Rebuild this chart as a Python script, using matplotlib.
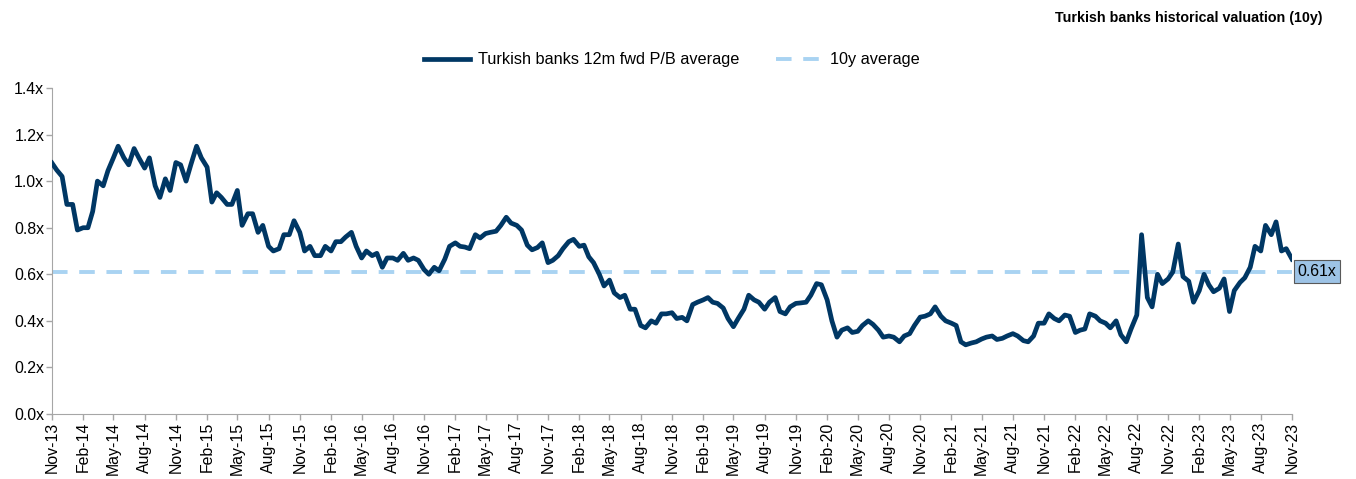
import numpy as np
import pandas as pd
import matplotlib.pyplot as plt
import matplotlib.dates as mdates

plt.rcParams['font.family'] = ['Liberation Sans', 'DejaVu Sans']

# Semi-monthly 12m forward P/B readings, Nov-2013 to Nov-2023
dates = pd.date_range('2013-11-01', '2023-11-01', freq='SMS')
pb_2014 = [1.078, 1.048, 1.02, 0.90, 0.90, 0.79, 0.80, 0.80, 0.87, 1.00, 0.98, 1.045,
           1.10, 1.15, 1.10, 1.07, 1.14, 1.10, 1.056, 1.10, 0.98, 0.93, 1.01, 0.96]
pb_2015 = [1.08, 1.07, 1.00, 1.07, 1.15, 1.10, 1.06, 0.91, 0.95, 0.93, 0.90, 0.90,
           0.96, 0.81, 0.86, 0.86, 0.78, 0.81, 0.72, 0.70, 0.71, 0.77, 0.77, 0.83]
pb_2016 = [0.78, 0.70, 0.72, 0.68, 0.68, 0.72, 0.70, 0.74, 0.74, 0.76, 0.78, 0.72,
           0.67, 0.70, 0.68, 0.69, 0.63, 0.67, 0.67, 0.66, 0.69, 0.66, 0.67, 0.66]
pb_2017 = [0.62, 0.60, 0.63, 0.615, 0.665, 0.72, 0.735, 0.72, 0.717, 0.71, 0.77, 0.756,
           0.775, 0.78, 0.785, 0.81, 0.845, 0.82, 0.81, 0.79, 0.725, 0.705, 0.715, 0.735]
pb_2018 = [0.65, 0.66, 0.68, 0.71, 0.74, 0.75, 0.72, 0.725, 0.675, 0.65, 0.60, 0.55,
           0.575, 0.52, 0.50, 0.51, 0.45, 0.45, 0.38, 0.37, 0.40, 0.39, 0.43, 0.43]
pb_2019 = [0.435, 0.41, 0.415, 0.40, 0.47, 0.48, 0.49, 0.50, 0.48, 0.475, 0.455, 0.41,
           0.375, 0.41, 0.45, 0.51, 0.49, 0.48, 0.45, 0.48, 0.50, 0.44, 0.43, 0.46]
pb_2020 = [0.475, 0.477, 0.48, 0.51, 0.56, 0.555, 0.49, 0.40, 0.33, 0.36, 0.37, 0.35,
           0.355, 0.38, 0.40, 0.385, 0.36, 0.33, 0.335, 0.33, 0.31, 0.335, 0.345, 0.38]
pb_2021 = [0.416, 0.42, 0.43, 0.46, 0.42, 0.40, 0.39, 0.38, 0.31, 0.297, 0.305, 0.31,
           0.322, 0.33, 0.335, 0.32, 0.325, 0.335, 0.345, 0.335, 0.315, 0.31, 0.335, 0.39]
pb_2022 = [0.39, 0.43, 0.41, 0.40, 0.425, 0.42, 0.35, 0.36, 0.365, 0.43, 0.42, 0.40,
           0.39, 0.37, 0.40, 0.34, 0.31, 0.365, 0.425, 0.77, 0.50, 0.46, 0.60, 0.56]
pb_2023 = [0.58, 0.61, 0.73, 0.59, 0.57, 0.48, 0.53, 0.60, 0.555, 0.525, 0.54, 0.58,
           0.44, 0.53, 0.565, 0.585, 0.63, 0.72, 0.70, 0.81, 0.77, 0.825, 0.70, 0.71, 0.665]
pb = pb_2014 + pb_2015 + pb_2016 + pb_2017 + pb_2018 + pb_2019 + pb_2020 + pb_2021 + pb_2022 + pb_2023
avg_10y = 0.61

fig = plt.figure(figsize=(13.56, 4.79), dpi=100)
ax = fig.add_axes([0.0383, 0.1357, 0.9145, 0.6806])

navy = '#003764'
light_blue = '#A9D3F2'
fs = 11.4

ax.plot(dates, pb, color=navy, lw=3.4, label='Turkish banks 12m fwd P/B average', zorder=3)
ax.axhline(avg_10y, color=light_blue, lw=2.8, ls=(0, (4, 3)), label='10y average', zorder=2)

ax.set_xlim(dates[0], dates[-1])
ax.set_ylim(0, 1.4)
ax.set_yticks(np.arange(0, 1.41, 0.2))
ax.set_yticklabels([f'{v:.1f}x' for v in np.arange(0, 1.41, 0.2)], fontsize=fs)

ax.xaxis.set_major_locator(mdates.MonthLocator(bymonth=[2, 5, 8, 11]))
ax.xaxis.set_major_formatter(mdates.DateFormatter('%b-%y'))
plt.setp(ax.get_xticklabels(), rotation=90, fontsize=fs)

for side in ['top', 'right']:
    ax.spines[side].set_visible(False)
for side in ['left', 'bottom']:
    ax.spines[side].set_color('#A6A6A6')
ax.tick_params(axis='both', color='#A6A6A6', length=4, width=1, direction='out', pad=1.5)

# Value tag for the 10y average on the right edge
ax.annotate(f'{avg_10y:.2f}x', xy=(1.0, avg_10y), xycoords=('axes fraction', 'data'),
            xytext=(4, 0), textcoords='offset points', va='center', ha='left', fontsize=fs,
            bbox=dict(boxstyle='square,pad=0.25', fc='#9DC3E6', ec='#595959', lw=0.8))

ax.legend(loc='lower center', bbox_to_anchor=(0.5, 1.018), ncol=2, frameon=False,
          fontsize=11.7, handlelength=2.8, handletextpad=0.5, columnspacing=2.3)

fig.text(0.975, 0.962, 'Turkish banks historical valuation (10y)', ha='right', va='center',
         fontsize=10.3, fontweight='bold')

fig.savefig('out.png', dpi=100)
